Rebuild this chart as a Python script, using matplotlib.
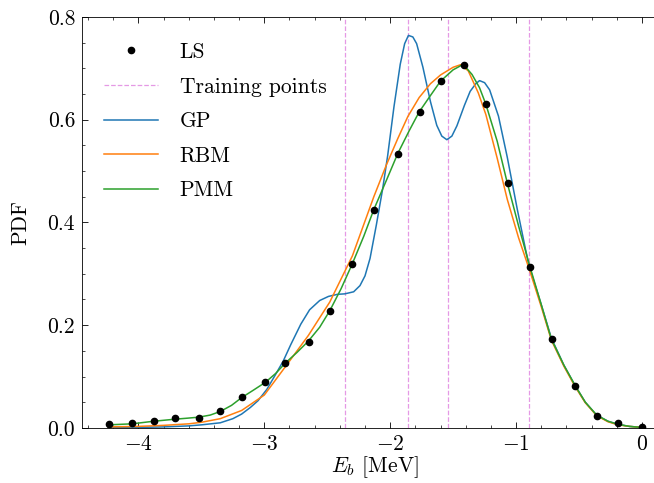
import numpy as np
import matplotlib
matplotlib.use("Agg")
import matplotlib.pyplot as plt
from matplotlib.ticker import MultipleLocator, FormatStrFormatter

plt.rcParams.update({
    "font.family": "serif",
    "font.serif": ["cmr10", "DejaVu Serif"],
    "mathtext.fontset": "cm",
    "axes.formatter.use_mathtext": True,
    "axes.unicode_minus": True,
    "font.size": 15.5,
    "xtick.direction": "in",
    "ytick.direction": "in",
    "xtick.top": True,
    "ytick.right": True,
})

# Lippmann-Schwinger reference points
ls_E = [-4.236, -4.05, -3.879, -3.706, -3.521, -3.349, -3.177, -2.992, -2.833,
        -2.648, -2.476, -2.304, -2.125, -1.939, -1.767, -1.595, -1.41, -1.238,
        -1.066, -0.889, -0.717, -0.532, -0.36, -0.188, 0.0]
ls_pdf = [0.008, 0.009, 0.014, 0.020, 0.020, 0.033, 0.060, 0.089, 0.127,
          0.168, 0.228, 0.319, 0.425, 0.534, 0.615, 0.675, 0.706, 0.631,
          0.477, 0.314, 0.173, 0.082, 0.024, 0.009, 0.002]

# Training energies
train_E = [-2.36, -1.86, -1.54, -0.90]

# Gaussian-process emulator
gp_E = [-4.24, -4.0, -3.8, -3.6, -3.5, -3.35, -3.25, -3.18, -3.11, -3.05, -2.98,
        -2.92, -2.85, -2.79, -2.71, -2.64, -2.56, -2.49, -2.42, -2.36, -2.29,
        -2.24, -2.20, -2.16, -2.11, -2.06, -2.02, -1.97, -1.92, -1.885, -1.855,
        -1.82, -1.79, -1.74, -1.68, -1.63, -1.59, -1.55, -1.51, -1.47, -1.41,
        -1.365, -1.32, -1.29, -1.25, -1.21, -1.14, -1.07, -0.99, -0.90, -0.80,
        -0.72, -0.62, -0.53, -0.45, -0.36, -0.27, -0.19, -0.10, 0.0]
gp_pdf = [0.001, 0.001, 0.002, 0.004, 0.006, 0.010, 0.018, 0.027, 0.040, 0.053,
          0.075, 0.100, 0.130, 0.162, 0.202, 0.230, 0.248, 0.256, 0.260, 0.261,
          0.265, 0.277, 0.296, 0.330, 0.395, 0.465, 0.530, 0.625, 0.708, 0.748,
          0.764, 0.761, 0.748, 0.702, 0.635, 0.589, 0.568, 0.561, 0.568, 0.588,
          0.628, 0.655, 0.670, 0.676, 0.672, 0.658, 0.607, 0.527, 0.425, 0.318,
          0.240, 0.175, 0.122, 0.082, 0.050, 0.025, 0.013, 0.007, 0.003, 0.001]

# Reduced-basis method
rbm_E = [-4.24, -4.0, -3.8, -3.6, -3.5, -3.35, -3.18, -3.0, -2.83, -2.65, -2.48,
         -2.30, -2.13, -2.03, -1.94, -1.86, -1.77, -1.68, -1.60, -1.50, -1.44,
         -1.38, -1.30, -1.24, -1.15, -1.07, -0.98, -0.89, -0.80, -0.72, -0.62,
         -0.53, -0.45, -0.36, -0.27, -0.19, -0.10, 0.0]
rbm_pdf = [0.002, 0.003, 0.005, 0.008, 0.011, 0.018, 0.034, 0.064, 0.120, 0.180,
           0.245, 0.335, 0.450, 0.512, 0.563, 0.606, 0.643, 0.670, 0.687, 0.702,
           0.707, 0.695, 0.652, 0.610, 0.525, 0.445, 0.370, 0.305, 0.236, 0.171,
           0.120, 0.080, 0.049, 0.024, 0.012, 0.006, 0.003, 0.001]

# Parametric matrix model
pmm_E = [-4.24, -4.05, -3.88, -3.71, -3.61, -3.52, -3.43, -3.35, -3.26, -3.18,
         -3.09, -2.99, -2.91, -2.83, -2.74, -2.65, -2.56, -2.48, -2.39, -2.30,
         -2.21, -2.13, -2.03, -1.94, -1.85, -1.77, -1.68, -1.60, -1.50, -1.44,
         -1.41, -1.35, -1.29, -1.24, -1.15, -1.07, -0.98, -0.89, -0.80, -0.72,
         -0.62, -0.53, -0.45, -0.36, -0.27, -0.19, -0.10, 0.0]
pmm_pdf = [0.006, 0.008, 0.013, 0.017, 0.019, 0.021, 0.025, 0.032, 0.044, 0.059,
           0.073, 0.089, 0.106, 0.127, 0.147, 0.169, 0.196, 0.228, 0.271, 0.320,
           0.373, 0.425, 0.482, 0.534, 0.578, 0.615, 0.647, 0.675, 0.697, 0.705,
           0.705, 0.688, 0.662, 0.630, 0.558, 0.477, 0.393, 0.314, 0.240, 0.173,
           0.122, 0.082, 0.050, 0.025, 0.013, 0.007, 0.003, 0.001]

fig = plt.figure(figsize=(6.54, 4.83), dpi=100)
ax = fig.add_axes([0.1254, 0.114, 0.897, 0.851])

ax.plot(ls_E, ls_pdf, "o", color="k", ms=4.5, label="LS", zorder=5)
for i, e in enumerate(train_E):
    ax.axvline(e, color="m", ls="--", lw=0.9, alpha=0.4,
               label="Training points" if i == 0 else None)
ax.plot(gp_E, gp_pdf, color="C0", lw=1.1, label="GP")
ax.plot(rbm_E, rbm_pdf, color="C1", lw=1.1, label="RBM")
ax.plot(pmm_E, pmm_pdf, color="C2", lw=1.1, label="PMM")

ax.set_xlim(-4.448, 0.212)
ax.set_ylim(0, 0.8)
ax.xaxis.set_major_locator(MultipleLocator(1))
ax.xaxis.set_minor_locator(MultipleLocator(0.2))
ax.yaxis.set_major_locator(MultipleLocator(0.2))
ax.yaxis.set_minor_locator(MultipleLocator(0.05))
ax.yaxis.set_major_formatter(FormatStrFormatter("%.1f"))
ax.tick_params(which="major", length=4, width=0.6, pad=5)
ax.tick_params(which="minor", length=2, width=0.5)
for s in ax.spines.values():
    s.set_linewidth(0.6)

ax.set_xlabel(r"$E_b$ [MeV]", labelpad=0)
ax.set_ylabel("PDF", labelpad=12)

ax.legend(loc="upper left", frameon=False, handlelength=2.5,
          handletextpad=1.0, labelspacing=0.7,
          bbox_to_anchor=(0.005, 0.985))

fig.savefig("out.png", dpi=100)
